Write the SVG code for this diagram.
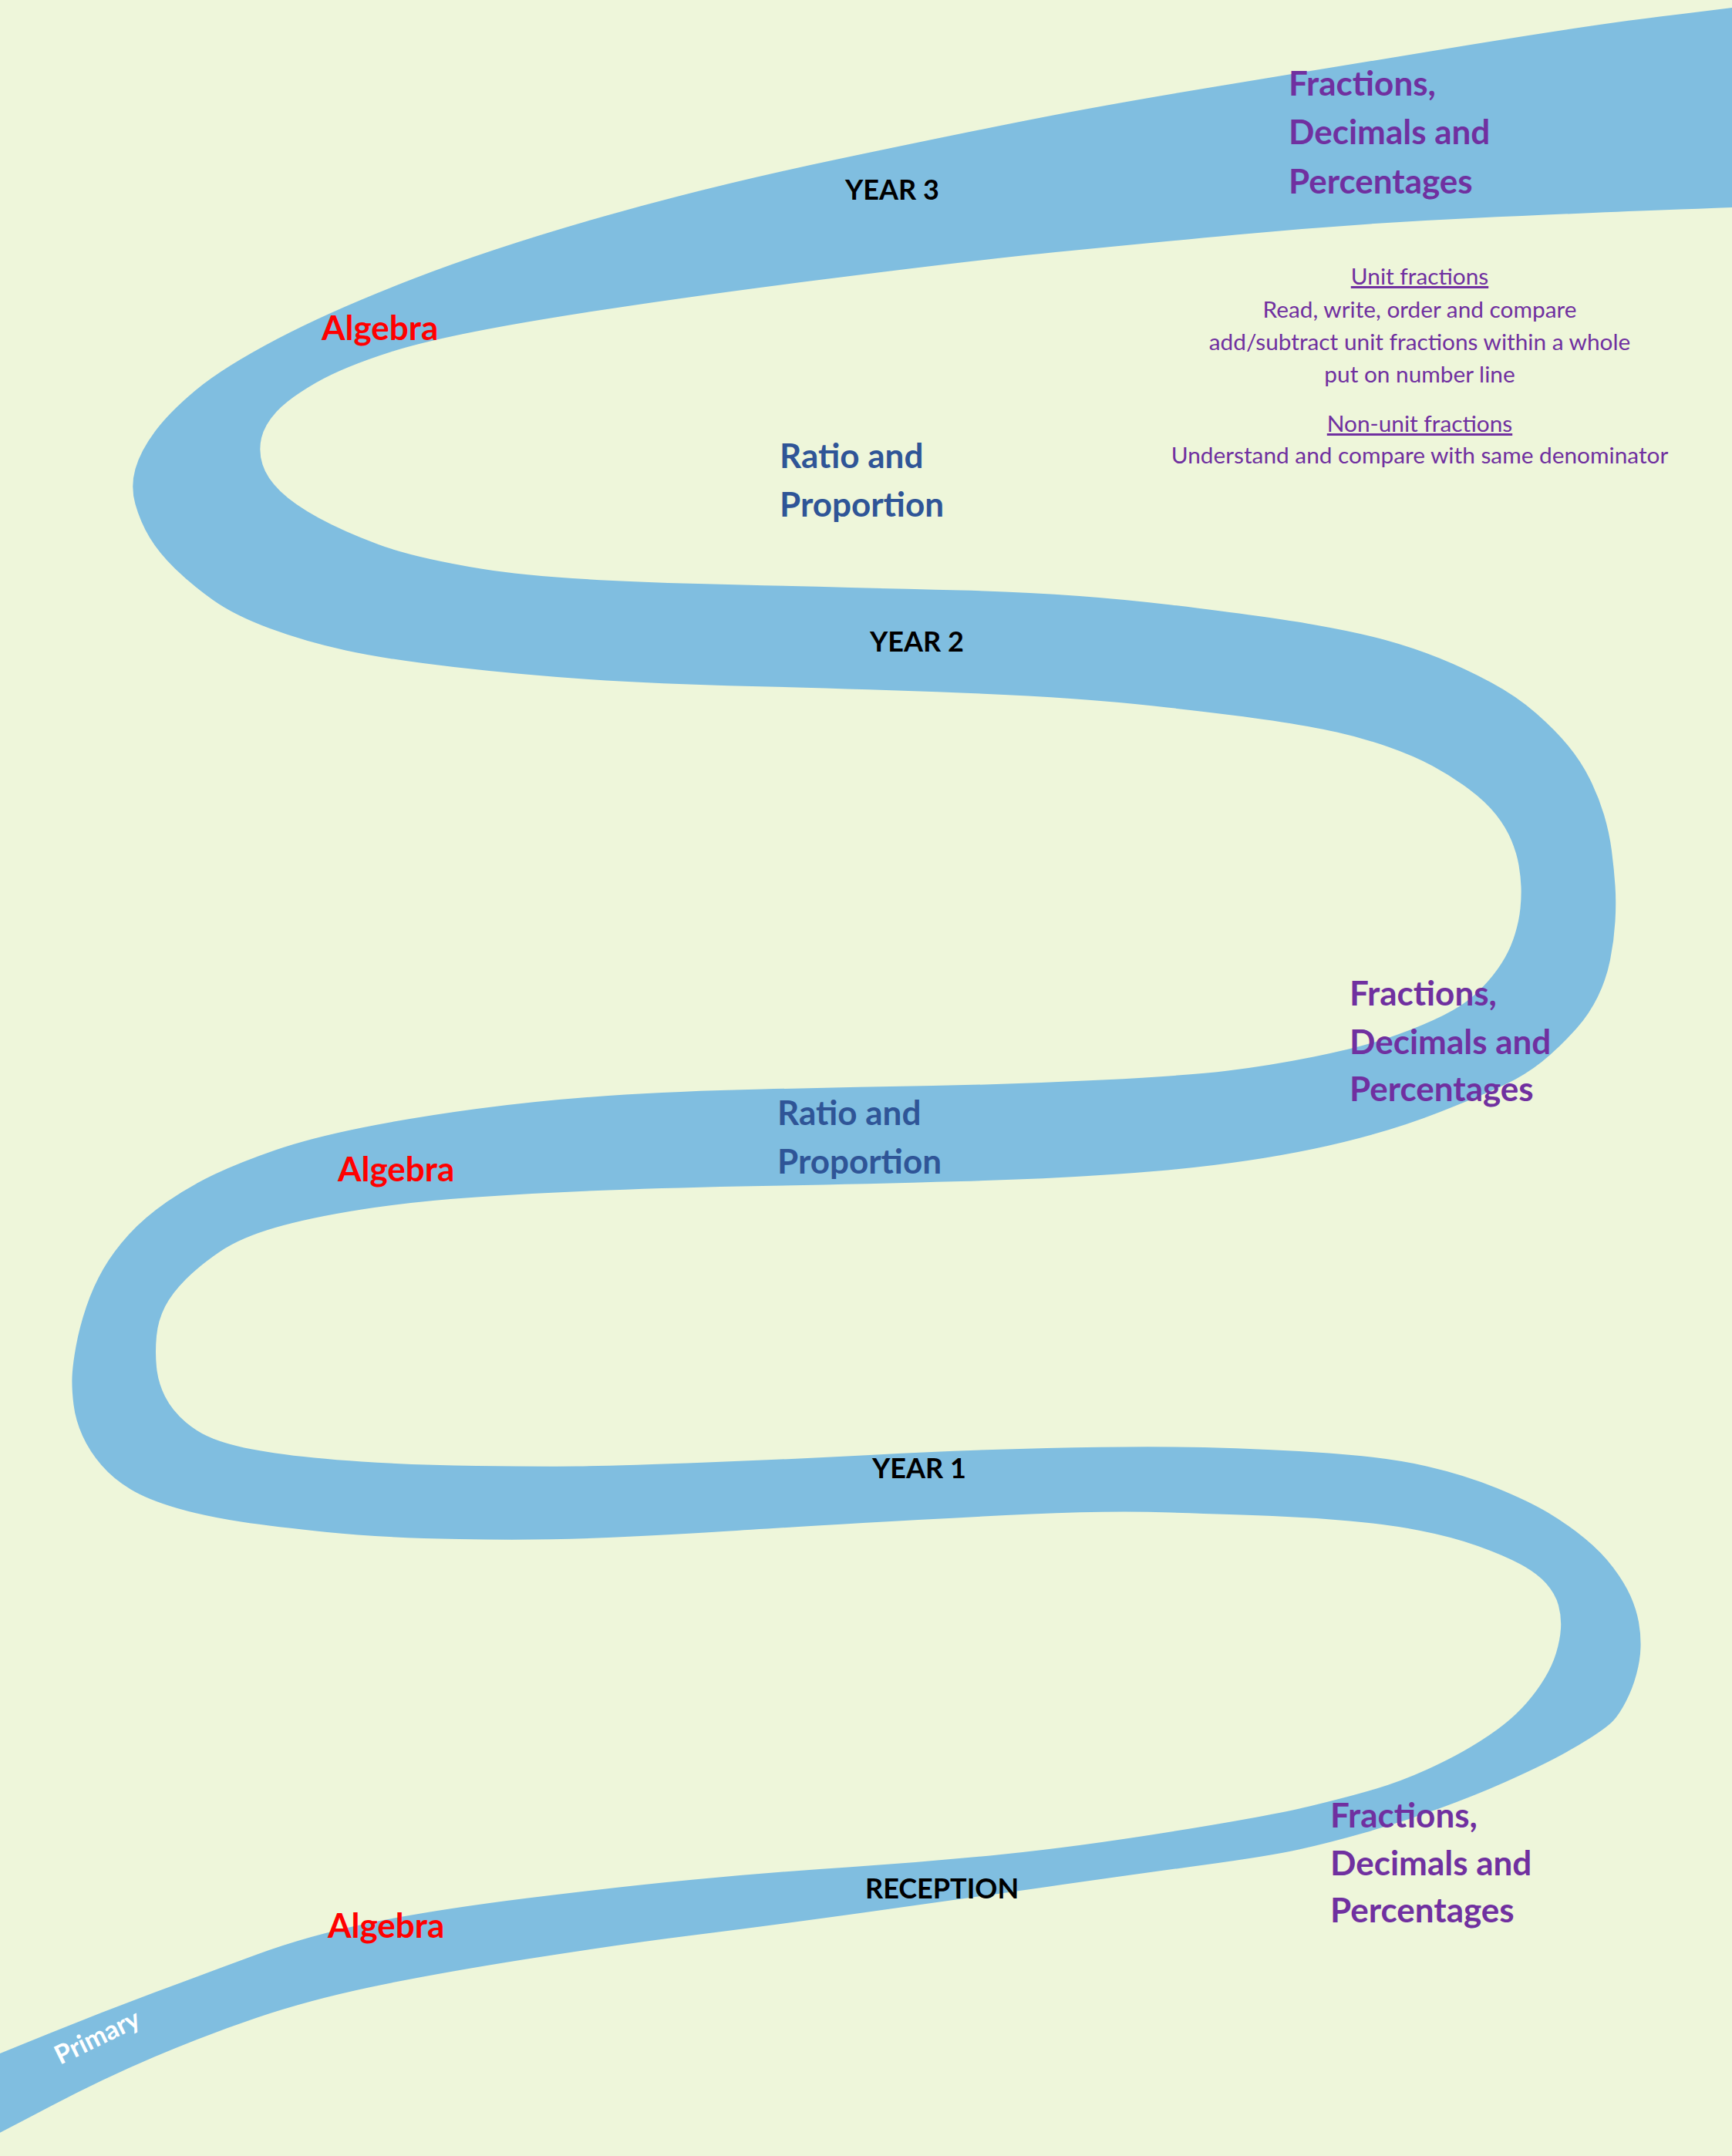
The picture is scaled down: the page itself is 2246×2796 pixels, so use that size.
<svg xmlns="http://www.w3.org/2000/svg" width="2246" height="2796" viewBox="0 0 2246 2796">
<style>
.bold{font-family:Lato,"Liberation Sans",sans-serif;font-weight:bold}
.reg{font-family:Lato,"Liberation Sans",sans-serif}
.year{font-size:36px;fill:#000}
.topic{font-size:44px}
.alg{fill:#FF0000}
.ratio{fill:#2F5597}
.frac{fill:#7030A0}
.small{font-size:29.8px;fill:#7030A0;text-anchor:middle}
</style>
<rect x="0" y="0" width="2246" height="2796" fill="#EEF6DA"/>
<g id="connectors">
<path id="road" fill="#80BEE0" d="M -60 2687 Q 0 2663 66.5 2636 Q 133 2609 200 2584 Q 267 2559 333.5 2534.5 Q 400 2510 480.5 2493.5 Q 561 2477 680.5 2462 Q 800 2447 900 2437.5 Q 1000 2428 1099.5 2421.5 Q 1199 2415 1298 2405 Q 1397 2395 1521.5 2375 Q 1646 2355 1698 2342.5 Q 1750 2330 1783.5 2320 Q 1817 2310 1850 2295 Q 1883 2280 1908 2265 Q 1933 2250 1950 2236.5 Q 1967 2223 1980 2208 Q 1993 2193 2003 2176.5 Q 2013 2160 2018 2143.5 Q 2023 2127 2024 2112 Q 2025 2097 2021 2082 Q 2017 2067 2005 2053.5 Q 1993 2040 1971.5 2028.5 Q 1950 2017 1916.5 2005 Q 1883 1993 1841.5 1985 Q 1800 1977 1750 1972.5 Q 1700 1968 1650 1966 Q 1600 1964 1518.5 1961.5 Q 1437 1959 1337.5 1963.5 Q 1238 1968 1119 1975 Q 1000 1982 938.5 1986 Q 877 1990 788.5 1994 Q 700 1998 595.5 1996 Q 491 1994 424 1987 Q 357 1980 312.5 1973.5 Q 268 1967 230 1956 Q 192 1945 169.5 1931.5 Q 147 1918 131.5 1900 Q 116 1882 107 1862 Q 98 1842 95.5 1822 Q 93 1802 93.5 1786.5 Q 94 1771 98.5 1746 Q 103 1721 112 1694.5 Q 121 1668 134 1645.5 Q 147 1623 167 1601 Q 187 1579 216.5 1558.5 Q 246 1538 279 1522.5 Q 312 1507 357 1491.5 Q 402 1476 469 1462.5 Q 536 1449 618 1438 Q 700 1427 788.5 1421 Q 877 1415 988.5 1412.5 Q 1100 1410 1209.5 1408 Q 1319 1406 1429 1400.5 Q 1539 1395 1592.5 1388.5 Q 1646 1382 1703.5 1370.5 Q 1761 1359 1795.5 1347.5 Q 1830 1336 1858.5 1323 Q 1887 1310 1902 1298.5 Q 1917 1287 1930 1272 Q 1943 1257 1951.5 1242 Q 1960 1227 1965 1210 Q 1970 1193 1971.5 1178 Q 1973 1163 1972.5 1150 Q 1972 1137 1969.5 1122 Q 1967 1107 1960 1090 Q 1953 1073 1940 1056.5 Q 1927 1040 1905 1023.5 Q 1883 1007 1858 993.5 Q 1833 980 1800 968.5 Q 1767 957 1733.5 949.5 Q 1700 942 1650 934.5 Q 1600 927 1496 915.5 Q 1392 904 1246 898.5 Q 1100 893 975.5 890 Q 851 887 763.5 881 Q 676 875 588.5 865 Q 501 855 448.5 843.5 Q 396 832 350 815 Q 304 798 276 778 Q 248 758 227 737.5 Q 206 717 194 697 Q 182 677 175.5 654 Q 169 631 175.5 608 Q 182 585 201 559.5 Q 220 534 255 505 Q 290 476 360.5 439 Q 431 402 536 361.5 Q 641 321 781.5 281 Q 922 241 1086 206.5 Q 1250 172 1350 152.5 Q 1450 133 1602.5 108 Q 1755 83 1907 58 Q 2059 33 2152.5 21.5 Q 2246 10 2300 3 L 2300 267 Q 2246 269 2152.5 272.5 Q 2059 276 1907 283 Q 1755 290 1602.5 304.5 Q 1450 319 1350 329 Q 1250 339 1050.5 364.5 Q 851 390 711 413 Q 571 436 508 456 Q 445 476 409.5 496.5 Q 374 517 358.5 534 Q 343 551 339 568 Q 335 585 340.5 602.5 Q 346 620 363.5 637 Q 381 654 413 671.5 Q 445 689 490.5 706 Q 536 723 623.5 737.5 Q 711 752 905.5 757 Q 1100 762 1246 765.5 Q 1392 769 1519 784.5 Q 1646 800 1703 810 Q 1760 820 1796.5 830 Q 1833 840 1866.5 853.5 Q 1900 867 1933.5 885 Q 1967 903 1992 925 Q 2017 947 2033.5 967 Q 2050 987 2061.5 1010 Q 2073 1033 2080 1056.5 Q 2087 1080 2090 1103.5 Q 2093 1127 2094.5 1148.5 Q 2096 1170 2094.5 1195 Q 2093 1220 2088 1245 Q 2083 1270 2072 1292.5 Q 2061 1315 2045 1333 Q 2029 1351 2009.5 1368.5 Q 1990 1386 1965.5 1399.5 Q 1941 1413 1867.5 1442 Q 1794 1471 1703 1490 Q 1612 1509 1502 1518.5 Q 1392 1528 1246 1532 Q 1100 1536 988.5 1538 Q 877 1540 788.5 1543.5 Q 700 1547 618 1552.5 Q 536 1558 469 1568.5 Q 402 1579 357 1592 Q 312 1605 285.5 1623 Q 259 1641 241 1659 Q 223 1677 214 1694.5 Q 205 1712 203 1732.5 Q 201 1753 203 1773 Q 205 1793 214 1811 Q 223 1829 241 1844.5 Q 259 1860 285.5 1869 Q 312 1878 357 1884.5 Q 402 1891 469 1895.5 Q 536 1900 618 1901 Q 700 1902 748.5 1901.5 Q 797 1901 916.5 1896.5 Q 1036 1892 1137 1886.5 Q 1238 1881 1357.5 1878 Q 1477 1875 1561.5 1877 Q 1646 1879 1723 1884.5 Q 1800 1890 1850 1901.5 Q 1900 1913 1941.5 1930 Q 1983 1947 2008 1962 Q 2033 1977 2055 1995 Q 2077 2013 2092 2033 Q 2107 2053 2114.5 2070 Q 2122 2087 2125 2103.5 Q 2128 2120 2127.5 2136.5 Q 2127 2153 2122 2171.5 Q 2117 2190 2108.5 2206.5 Q 2100 2223 2092 2231.5 Q 2084 2240 2062 2254 Q 2040 2268 2015 2281 Q 1990 2294 1952 2311 Q 1914 2328 1866 2345.5 Q 1818 2363 1770.5 2376.5 Q 1723 2390 1684.5 2398.5 Q 1646 2407 1561.5 2418.5 Q 1477 2430 1357.5 2447 Q 1238 2464 1119 2480.5 Q 1000 2497 900 2509.5 Q 800 2522 680.5 2541 Q 561 2560 480.5 2577 Q 400 2594 333.5 2616.5 Q 267 2639 200 2667.5 Q 133 2696 66.5 2731 Q 0 2766 -60 2797 Z"/>
</g>
<g id="label-primary"><text class="bold" font-size="34" fill="#FFFFFF" transform="translate(78 2678) rotate(-26)">Primary</text></g>
<g id="label-year3"><text class="bold year" x="1096" y="259">YEAR 3</text></g>
<g id="label-year2"><text class="bold year" x="1128" y="845">YEAR 2</text></g>
<g id="label-year1"><text class="bold year" x="1131" y="1917">YEAR 1</text></g>
<g id="label-reception"><text class="bold year" x="1122" y="2462">RECEPTION</text></g>
<g id="algebra-y3"><text class="bold topic alg" x="417" y="441">Algebra</text></g>
<g id="algebra-y1"><text class="bold topic alg" x="438" y="1532">Algebra</text></g>
<g id="algebra-rec"><text class="bold topic alg" x="425" y="2513">Algebra</text></g>
<g id="ratio-y3"><text class="bold topic ratio" x="1011" y="607">Ratio and</text><text class="bold topic ratio" x="1011" y="670">Proportion</text></g>
<g id="ratio-y1"><text class="bold topic ratio" x="1008" y="1459">Ratio and</text><text class="bold topic ratio" x="1008" y="1522">Proportion</text></g>
<g id="fdp-y3"><text class="bold topic frac" x="1671" y="124">Fractions,</text><text class="bold topic frac" x="1671" y="187">Decimals and</text><text class="bold topic frac" x="1671" y="251">Percentages</text></g>
<g id="fdp-y1"><text class="bold topic frac" x="1750" y="1304">Fractions,</text><text class="bold topic frac" x="1750" y="1367">Decimals and</text><text class="bold topic frac" x="1750" y="1428">Percentages</text></g>
<g id="fdp-rec"><text class="bold topic frac" x="1725" y="2370">Fractions,</text><text class="bold topic frac" x="1725" y="2432">Decimals and</text><text class="bold topic frac" x="1725" y="2493">Percentages</text></g>
<g id="fdp-y3-detail">
<text class="reg small" x="1841" y="369" text-decoration="underline">Unit fractions</text>
<text class="reg small" x="1841" y="412">Read, write, order and compare</text>
<text class="reg small" x="1841" y="454">add/subtract unit fractions within a whole</text>
<text class="reg small" x="1841" y="496">put on number line</text>
<text class="reg small" x="1841" y="560" text-decoration="underline">Non-unit fractions</text>
<text class="reg small" x="1841" y="601">Understand and compare with same denominator</text>
</g>
</svg>
